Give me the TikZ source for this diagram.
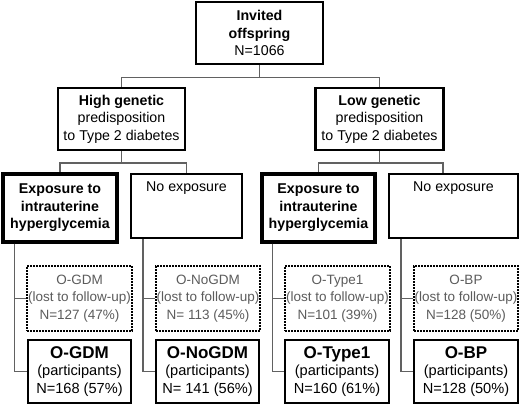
\documentclass[tikz,border=0pt]{standalone}
\usepackage{fontspec}
\setmainfont{Liberation Sans}
\newcommand{\bigtxt}[1]{{\bfseries\fontsize{17}{18}\selectfont #1}}
\begin{document}
\begin{tikzpicture}[x=1pt,y=-1pt,
  every node/.style={inner sep=0pt, align=center},
  txt/.style={font=\fontsize{14.2}{17.5}\selectfont},
  boxn/.style={draw=black, line width=2.2pt, txt},
  boxtop/.style={draw=black, line width=2.5pt, txt},
  boxexp/.style={draw=black, line width=3.3pt, txt},
  boxpart/.style={draw=black, line width=2.7pt, font=\fontsize{14.6}{17.2}\selectfont},
  boxlost/.style={draw=black, line width=2pt, dash pattern=on 1.6pt off 1.4pt,
     text=black!64, font=\fontsize{13.5}{17.5}\selectfont},
  conn/.style={draw=black!62, line width=1.3pt}
]
\useasboundingbox (0,0) rectangle (520,407);
\fill[white] (0,0) rectangle (520,407);

% top
\node[boxtop, minimum width=127pt, minimum height=62pt] (top) at (259.5,33)
  {\textbf{Invited}\\\textbf{offspring}\\N=1066};

% genetic level
\node[boxn, minimum width=127pt, minimum height=62pt] (high) at (121.5,119)
  {\textbf{High genetic}\\predisposition\\to Type 2 diabetes};
\node[boxn, minimum width=128pt, minimum height=62pt] (low) at (379.5,119)
  {\textbf{Low genetic}\\predisposition\\to Type 2 diabetes};

% exposure level
\node[boxexp, minimum width=114pt, minimum height=68pt] (expL) at (60,208)
  {\textbf{Exposure to}\\\textbf{intrauterine}\\\textbf{hyperglycemia}};
\node[boxn, minimum width=111pt, minimum height=64pt] (noL) at (186.5,206) {};
\node[txt] (noLt) at ([yshift=-15pt]noL.north) {No exposure};
\node[boxexp, minimum width=113pt, minimum height=68pt] (expR) at (318.5,208)
  {\textbf{Exposure to}\\\textbf{intrauterine}\\\textbf{hyperglycemia}};
\node[boxn, minimum width=129pt, minimum height=64pt] (noR) at (453.5,206) {};
\node[txt] (noRt) at ([yshift=-15pt]noR.north) {No exposure};

% lost to follow-up
\node[boxlost, minimum width=105pt, minimum height=65pt] (l1) at (79.5,298.5)
  {O-GDM\\(lost to follow-up)\\N=127 (47\%)};
\node[boxlost, minimum width=104pt, minimum height=65pt] (l2) at (208,298.5)
  {O-NoGDM\\(lost to follow-up)\\N= 113 (45\%)};
\node[boxlost, minimum width=105pt, minimum height=65pt] (l3) at (337.5,298.5)
  {O-Type1\\(lost to follow-up)\\N=101 (39\%)};
\node[boxlost, minimum width=104pt, minimum height=65pt] (l4) at (466,298.5)
  {O-BP\\(lost to follow-up)\\N=128 (50\%)};

% participants
\node[boxpart, minimum width=103pt, minimum height=63pt] (p1) at (79.5,371.5)
  {\bigtxt{O-GDM}\\(participants)\\N=168 (57\%)};
\node[boxpart, minimum width=103pt, minimum height=63pt] (p2) at (207.5,371.5)
  {\bigtxt{O-NoGDM}\\(participants)\\N= 141 (56\%)};
\node[boxpart, minimum width=104pt, minimum height=63pt] (p3) at (337,371.5)
  {\bigtxt{O-Type1}\\(participants)\\N=160 (61\%)};
\node[boxpart, minimum width=104pt, minimum height=63pt] (p4) at (466,371.5)
  {\bigtxt{O-BP}\\(participants)\\N=128 (50\%)};

% connectors
\draw[conn] (top.south) -- ++(0,12) coordinate (tj);
\draw[conn] (tj) -| (high.north);
\draw[conn] (tj) -| (low.north);

\draw[conn] (high.south) -- ++(0,12) coordinate (hj);
\draw[conn] (hj) -| (expL.north);
\draw[conn] (hj) -| (noL.north);

\draw[conn] (low.south) -- ++(0,12) coordinate (lj);
\draw[conn] (lj) -| (expR.north);
\draw[conn] (lj) -| ([xshift=-10.5pt]noR.north);

\draw[conn] ([xshift=13pt]expL.south west) |- (l1.west);
\draw[conn] ([xshift=13pt]expL.south west) |- (p1.west);
\draw[conn] ([xshift=13pt]noL.south west) |- (l2.west);
\draw[conn] ([xshift=13pt]noL.south west) |- (p2.west);
\draw[conn] ([xshift=12pt]expR.south west) |- (l3.west);
\draw[conn] ([xshift=12pt]expR.south west) |- (p3.west);
\draw[conn] ([xshift=13pt]noR.south west) |- (l4.west);
\draw[conn] ([xshift=13pt]noR.south west) |- (p4.west);
\end{tikzpicture}
\end{document}
